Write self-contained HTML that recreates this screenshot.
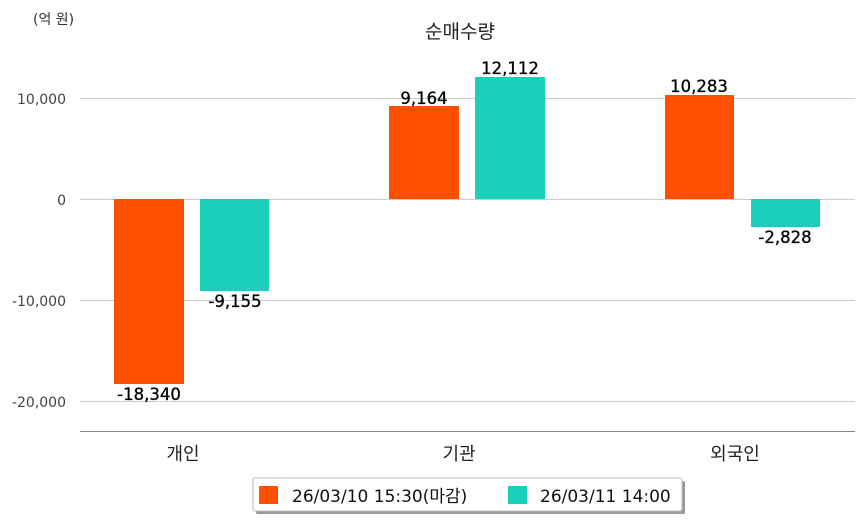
<!DOCTYPE html>
<html><head><meta charset="utf-8"><style>
body{margin:0;background:#fff;}
svg text{font-family:"DejaVu Sans","Noto Sans CJK KR",sans-serif;}
</style></head><body>
<svg width="863" height="520" xmlns="http://www.w3.org/2000/svg">
<rect width="863" height="520" fill="#fff"/>
<text x="33" y="24" font-size="14" fill="#333">(억 원)</text>
<text x="460" y="38" font-size="19" fill="#222" text-anchor="middle">순매수량</text>
<g stroke="#cccccc" stroke-width="1">
<line x1="80" y1="98.5" x2="855" y2="98.5"/>
<line x1="80" y1="199.5" x2="855" y2="199.5"/>
<line x1="80" y1="300.5" x2="855" y2="300.5"/>
<line x1="80" y1="401.5" x2="855" y2="401.5"/>
</g>
<line x1="80" y1="431.5" x2="855" y2="431.5" stroke="#888" stroke-width="1"/>
<g font-size="14" fill="#444" text-anchor="end">
<text x="66" y="104">10,000</text>
<text x="66" y="205">0</text>
<text x="66" y="306">-10,000</text>
<text x="66" y="407">-20,000</text>
</g>
<rect x="114" y="199" width="70" height="185" fill="#ff5000"/>
<rect x="200" y="199" width="69" height="92" fill="#1ccfbc"/>
<rect x="389" y="106" width="70" height="93" fill="#ff5000"/>
<rect x="475" y="77" width="70" height="122" fill="#1ccfbc"/>
<rect x="665" y="95" width="69" height="104" fill="#ff5000"/>
<rect x="751" y="199" width="69" height="28" fill="#1ccfbc"/>
<g font-size="16.5" fill="#000" text-anchor="middle" stroke="#000" stroke-width="0.3">
<text x="149" y="400">-18,340</text>
<text x="235" y="307">-9,155</text>
<text x="424" y="104">9,164</text>
<text x="510" y="74">12,112</text>
<text x="699" y="92">10,283</text>
<text x="785" y="243">-2,828</text>
</g>
<g font-size="18" fill="#222" text-anchor="middle">
<text x="183" y="460">개인</text>
<text x="459" y="460">기관</text>
<text x="735" y="460">외국인</text>
</g>
<rect x="256" y="481" width="429" height="33" fill="#999" rx="2"/>
<rect x="253" y="478" width="429" height="33" fill="#fff" stroke="#bbb" rx="2"/>
<rect x="259" y="486" width="19" height="18" fill="#ff5000"/>
<text x="292" y="502" font-size="17" fill="#111">26/03/10 15:30(마감)</text>
<rect x="508" y="486" width="19" height="18" fill="#1ccfbc"/>
<text x="540" y="502" font-size="17" fill="#111">26/03/11 14:00</text>
</svg>
</body></html>
